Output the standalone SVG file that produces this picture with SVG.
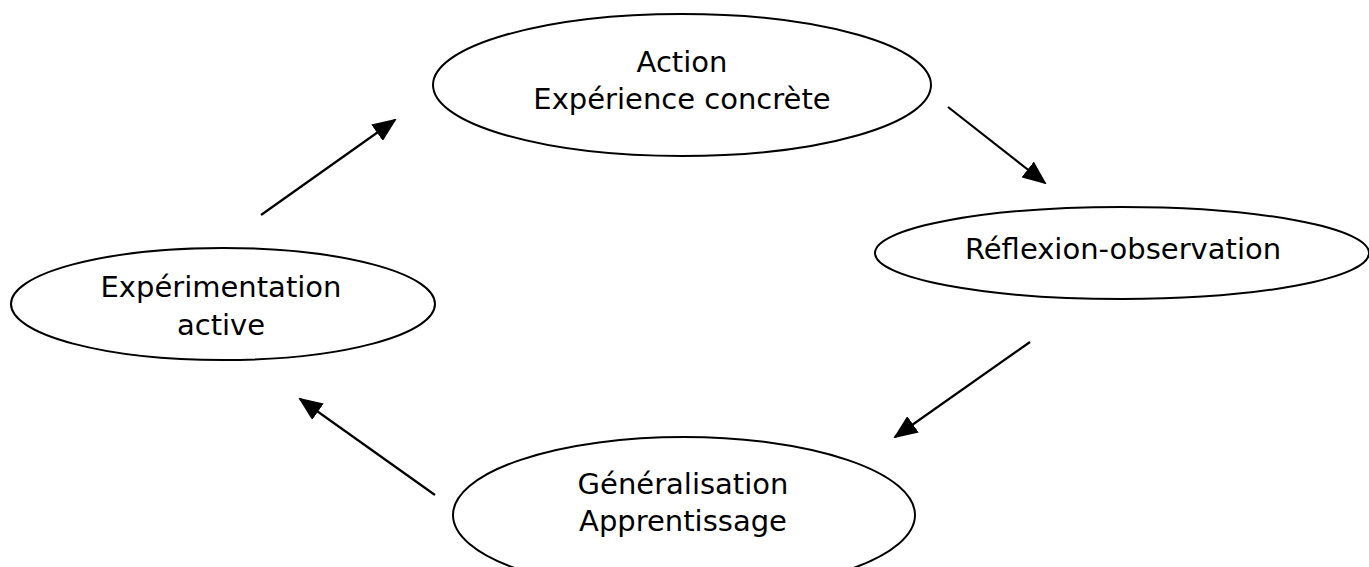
<svg xmlns="http://www.w3.org/2000/svg" width="1369" height="567" viewBox="0 0 1369 567">
<defs>
<style>
.node ellipse{fill:#fff;stroke:#000;stroke-width:2}
.node text{font-family:"DejaVu Sans",Verdana,sans-serif;font-size:29px;fill:#000;text-anchor:middle}
.conn line{stroke:#000;stroke-width:2.2;fill:none}
</style>
<marker id="ah" markerUnits="userSpaceOnUse" markerWidth="24" markerHeight="20" viewBox="0 0 24 20" refX="22" refY="10" orient="auto">
<path d="M0,0 L24,10 L0,20 Z" fill="#000"/>
</marker>
</defs>
<rect width="1369" height="567" fill="#fff"/>
<g id="n-action" class="node">
<ellipse cx="682" cy="85" rx="249" ry="71"/>
<text x="682" y="72">Action</text>
<text x="682" y="109">Expérience concrète</text>
</g>
<g id="n-reflexion" class="node">
<ellipse cx="1122" cy="253" rx="247" ry="46"/>
<text x="1123" y="259">Réflexion-observation</text>
</g>
<g id="n-generalisation" class="node">
<ellipse cx="684" cy="515" rx="231" ry="78"/>
<text x="683" y="494">Généralisation</text>
<text x="683" y="531">Apprentissage</text>
</g>
<g id="n-experimentation" class="node">
<ellipse cx="223" cy="304" rx="212" ry="56"/>
<text x="221" y="297">Expérimentation</text>
<text x="221" y="335">active</text>
</g>
<g id="connectors" class="conn">
<line x1="261" y1="215" x2="395" y2="120" marker-end="url(#ah)"/>
<line x1="948" y1="107" x2="1045" y2="183" marker-end="url(#ah)"/>
<line x1="1030" y1="342" x2="895" y2="437" marker-end="url(#ah)"/>
<line x1="435" y1="495" x2="300" y2="399" marker-end="url(#ah)"/>
</g>
</svg>
